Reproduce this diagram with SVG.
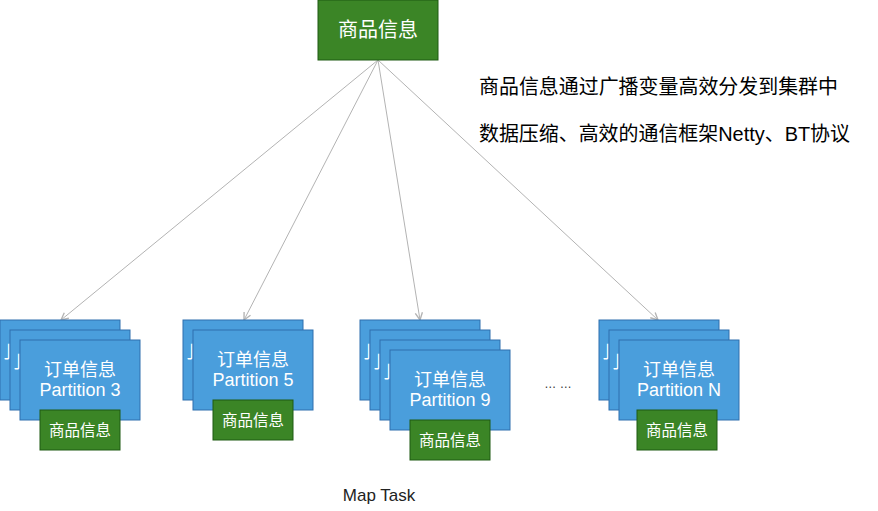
<svg xmlns="http://www.w3.org/2000/svg" width="878" height="511" viewBox="0 0 878 511">
<defs>
<style>
.card{fill:#4A9EDC;stroke:#2E6FAE;stroke-width:1}
.gbox{fill:#3B8526;stroke:#1F5A12;stroke-width:1}
.t{font-family:"Liberation Sans","Noto Sans CJK SC",sans-serif;fill:#FFFFFF;text-anchor:middle;dominant-baseline:central}
.ct{font-size:18px}
.gt{font-size:15.5px}
.bt{font-family:"Noto Sans CJK SC",sans-serif;fill:#FFFFFF;font-size:17px;dominant-baseline:central}
.note{font-family:"Liberation Sans","Noto Sans CJK SC",sans-serif;fill:#000000;font-size:20px;dominant-baseline:central}
.edge{stroke:#B3B3B3;stroke-width:1;fill:none;marker-end:url(#arr)}
</style>
<marker id="arr" viewBox="0 0 10 10" refX="9" refY="5" markerWidth="9" markerHeight="9" orient="auto" markerUnits="userSpaceOnUse">
<path d="M1,1 L9,5 L1,9" fill="none" stroke="#B3B3B3" stroke-width="1.5"/>
</marker>
</defs>
<rect width="878" height="511" fill="#FFFFFF"/>

<g id="connectors">
<line class="edge" x1="378" y1="60" x2="61" y2="320"/>
<line class="edge" x1="378" y1="60" x2="244" y2="320"/>
<line class="edge" x1="378" y1="60" x2="420" y2="320"/>
<line class="edge" x1="378" y1="60" x2="658" y2="320"/>
</g>

<g id="top-node">
<rect class="gbox" x="318" y="0" width="120" height="60"/>
<text class="t" x="378" y="30" font-size="20">商品信息</text>
</g>

<g id="note">
<text class="note" x="479" y="87" textLength="359" lengthAdjust="spacingAndGlyphs">商品信息通过广播变量高效分发到集群中</text>
<text class="note" x="479" y="134" textLength="371" lengthAdjust="spacingAndGlyphs">数据压缩、高效的通信框架Netty、BT协议</text>
</g>

<g id="stack-3">
<rect class="card" x="0" y="320" width="120" height="80"/>
<text class="bt" x="0" y="350">亅</text>
<rect class="card" x="10" y="330" width="120" height="80"/>
<text class="bt" x="10" y="360">亅</text>
<rect class="card" x="20" y="340" width="120" height="80"/>
<text class="t ct" x="80" y="370">订单信息</text>
<text class="t ct" x="80" y="390">Partition 3</text>
<rect class="gbox" x="40" y="410" width="80" height="40"/>
<text class="t gt" x="80" y="430">商品信息</text>
</g>

<g id="stack-5">
<rect class="card" x="183" y="320" width="120" height="80"/>
<text class="bt" x="183" y="350">亅</text>
<rect class="card" x="193" y="330" width="120" height="80"/>
<text class="t ct" x="253" y="360">订单信息</text>
<text class="t ct" x="253" y="380">Partition 5</text>
<rect class="gbox" x="213" y="400" width="80" height="40"/>
<text class="t gt" x="253" y="420">商品信息</text>
</g>

<g id="stack-9">
<rect class="card" x="360" y="320" width="120" height="80"/>
<text class="bt" x="360" y="350">亅</text>
<rect class="card" x="370" y="330" width="120" height="80"/>
<text class="bt" x="370" y="360">亅</text>
<rect class="card" x="380" y="340" width="120" height="80"/>
<text class="bt" x="380" y="370">亅</text>
<rect class="card" x="390" y="350" width="120" height="80"/>
<text class="t ct" x="450" y="380">订单信息</text>
<text class="t ct" x="450" y="400">Partition 9</text>
<rect class="gbox" x="410" y="420" width="80" height="40"/>
<text class="t gt" x="450" y="440">商品信息</text>
</g>

<g id="ellipsis">
<text x="558" y="384" font-family="Liberation Sans, sans-serif" font-size="12" fill="#333333" text-anchor="middle" dominant-baseline="central">… …</text>
</g>

<g id="stack-N">
<rect class="card" x="599" y="320" width="120" height="80"/>
<text class="bt" x="599" y="350">亅</text>
<rect class="card" x="609" y="330" width="120" height="80"/>
<text class="bt" x="609" y="360">亅</text>
<rect class="card" x="619" y="340" width="120" height="80"/>
<text class="t ct" x="679" y="370">订单信息</text>
<text class="t ct" x="679" y="390">Partition N</text>
<rect class="gbox" x="637" y="410" width="80" height="40"/>
<text class="t gt" x="677" y="430">商品信息</text>
</g>

<g id="label">
<text x="379" y="495" font-family="Liberation Sans, sans-serif" font-size="17" fill="#222222" text-anchor="middle" dominant-baseline="central">Map Task</text>
</g>
</svg>
